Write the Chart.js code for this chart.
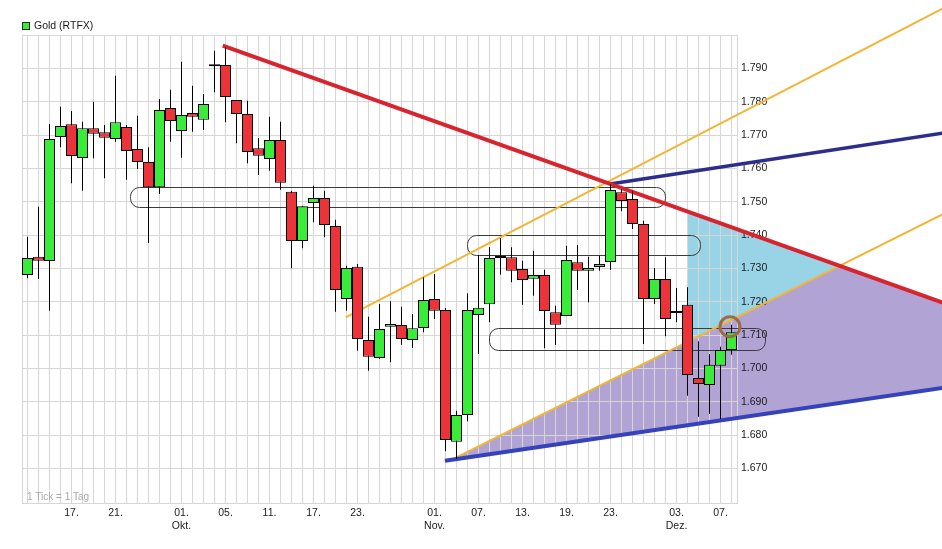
<!DOCTYPE html>
<html>
<head>
<meta charset="utf-8">
<title>Gold (RTFX)</title>
<script src="https://cdn.jsdelivr.net/npm/chart.js@4/dist/chart.umd.min.js"></script>
<style>
    html, body { margin: 0; padding: 0; background: #ffffff; }
    #wrap { width: 942px; height: 549px; }
</style>
</head>
<body>
<div id="wrap"><canvas id="goldChart" width="942" height="549"></canvas></div>
<script>
// trading days, 11.09. - 10.12.
var dates = ['11.09', '12.09', '13.09', '14.09', '17.09', '18.09', '19.09', '20.09', '21.09', '24.09', '25.09', '26.09', '27.09', '28.09',
    '01.10', '02.10', '03.10', '04.10', '05.10', '08.10', '09.10', '10.10', '11.10', '12.10', '15.10', '16.10', '17.10', '18.10', '19.10',
    '22.10', '23.10', '24.10', '25.10', '26.10', '29.10', '30.10', '31.10',
    '01.11', '02.11', '05.11', '06.11', '07.11', '08.11', '09.11', '12.11', '13.11', '14.11', '15.11', '16.11', '19.11', '20.11', '21.11',
    '22.11', '23.11', '26.11', '27.11', '28.11', '29.11', '30.11',
    '03.12', '04.12', '05.12', '06.12', '07.12', '10.12'];

var opens = [1.7280, 1.7335, 1.7322, 1.7694, 1.7732, 1.7631, 1.7720, 1.7708, 1.7688, 1.7724, 1.7658, 1.7619, 1.7543, 1.7781,
    1.7712, 1.7766, 1.7746, 1.7906, 1.7910, 1.7805, 1.7763, 1.7660, 1.7628, 1.7685, 1.7530, 1.7382, 1.7496, 1.7511, 1.7427,
    1.7208, 1.7305, 1.7085, 1.7031, 1.7125, 1.7130, 1.7085, 1.7121,
    1.7208, 1.7175, 1.6780, 1.6860, 1.7160, 1.7192, 1.7331, 1.7333, 1.7298, 1.7269, 1.7280, 1.7168, 1.7157, 1.7318, 1.7293,
    1.7304, 1.7319, 1.7528, 1.7508, 1.7433, 1.7208, 1.7268,
    1.7166, 1.7191, 1.6971, 1.6950, 1.7008, 1.7055];
var highs = [1.7395, 1.7485, 1.7733, 1.7785, 1.7772, 1.7740, 1.7800, 1.7730, 1.7878, 1.7730, 1.7758, 1.7663, 1.7808, 1.7836,
    1.7920, 1.7848, 1.7823, 1.7953, 1.7963, 1.7805, 1.7803, 1.7691, 1.7755, 1.7740, 1.7533, 1.7488, 1.7548, 1.7533, 1.7446,
    1.7308, 1.7313, 1.7155, 1.7193, 1.7201, 1.7185, 1.7163, 1.7273,
    1.7283, 1.7181, 1.6873, 1.7225, 1.7340, 1.7363, 1.7391, 1.7363, 1.7323, 1.7353, 1.7296, 1.7188, 1.7368, 1.7370, 1.7335,
    1.7338, 1.7553, 1.7538, 1.7533, 1.7443, 1.7301, 1.7333,
    1.7241, 1.7243, 1.7081, 1.7043, 1.7065, 1.7131];
var lows = [1.7270, 1.7268, 1.7173, 1.7663, 1.7555, 1.7533, 1.7630, 1.7570, 1.7680, 1.7566, 1.7598, 1.7376, 1.7523, 1.7680,
    1.7632, 1.7710, 1.7715, 1.7828, 1.7738, 1.7675, 1.7615, 1.7580, 1.7593, 1.7536, 1.7300, 1.7360, 1.7438, 1.7393, 1.7170,
    1.7173, 1.7053, 1.6993, 1.7028, 1.7018, 1.7071, 1.7061, 1.7108,
    1.7148, 1.6751, 1.6728, 1.6841, 1.7043, 1.7138, 1.7281, 1.7258, 1.7191, 1.7218, 1.7060, 1.7070, 1.7157, 1.7235, 1.7198,
    1.7293, 1.7295, 1.7471, 1.7418, 1.7073, 1.7193, 1.7096,
    1.7138, 1.6918, 1.6855, 1.6863, 1.6848, 1.7041];
var closes = [1.7331, 1.7323, 1.7688, 1.7727, 1.7637, 1.7720, 1.7704, 1.7692, 1.7738, 1.7652, 1.7619, 1.7543, 1.7775, 1.7742,
    1.7760, 1.7755, 1.7793, 1.7906, 1.7814, 1.7763, 1.7649, 1.7638, 1.7685, 1.7557, 1.7382, 1.7486, 1.7511, 1.7430, 1.7235,
    1.7301, 1.7088, 1.7035, 1.7118, 1.7133, 1.7088, 1.7120, 1.7205,
    1.7173, 1.6785, 1.6860, 1.7175, 1.7182, 1.7331, 1.7331, 1.7293, 1.7265, 1.7280, 1.7172, 1.7131, 1.7325, 1.7293, 1.7301,
    1.7313, 1.7535, 1.7502, 1.7433, 1.7208, 1.7268, 1.7148,
    1.7172, 1.6980, 1.6953, 1.7011, 1.7055, 1.7108];

var tickDates = ['17.09', '21.09', '01.10', '05.10', '11.10', '17.10', '23.10', '01.11', '07.11', '13.11', '19.11', '23.11', '03.12', '07.12'];
var tickLabels = [['17.'], ['21.'], ['01.', 'Okt.'], ['05.'], ['11.'], ['17.'], ['23.'], ['01.', 'Nov.'], ['07.'], ['13.'], ['19.'], ['23.'], ['03.', 'Dez.'], ['07.']];
var priceTicks = [1.67, 1.68, 1.69, 1.70, 1.71, 1.72, 1.73, 1.74, 1.75, 1.76, 1.77, 1.78, 1.79, 1.80];

// drawn analysis: [day index, price] pairs
var redLine = [[17.75, 1.7968], [83.3, 1.7196]];
var blueUpper = [[52.95, 1.7553], [83.3, 1.7706]];
var blueLower = [[37.95, 1.6723], [83.3, 1.6942]];
var orangeUpper = [[28.93, 1.7153], [83.3, 1.8081]];
var orangeLower = [[38.59, 1.6726], [83.3, 1.7464]];
// zones: [from day, to day, low, high]
var zones = [[9.32, 57.95, 1.7483, 1.7543], [39.98, 61.14, 1.7340, 1.7400], [41.98, 67.05, 1.7055, 1.7120]];
var cyanStart = 60;
var marker = [63.86, 1.7125];

var GREEN = '#3aec3a';
var RED = '#ec3339';
var GRID = '#d6d6d6';
var FONT = 'Liberation Sans, Arial, sans-serif';

Chart.defaults.font.family = FONT;
Chart.defaults.font.size = 10.5;
Chart.defaults.color = '#1a1a1a';

var labelAt = {};
tickDates.forEach(function (d, k) { labelAt[dates.indexOf(d)] = tickLabels[k]; });

var xTickValues = [-0.5];
dates.forEach(function (d, i) { xTickValues.push(i); });
xTickValues.push(dates.length - 0.5);

function toPoints(line) {
    return line.map(function (p) { return { x: p[0], y: p[1] }; });
}

function lineY(line, xv) {
    var a = line[0], b = line[1];
    return a[1] + (b[1] - a[1]) * (xv - a[0]) / (b[0] - a[0]);
}

function crossing(l1, l2) {
    var s1 = (l1[1][1] - l1[0][1]) / (l1[1][0] - l1[0][0]);
    var s2 = (l2[1][1] - l2[0][1]) / (l2[1][0] - l2[0][0]);
    var xv = (l2[0][1] - l1[0][1] + s1 * l1[0][0] - s2 * l2[0][0]) / (s1 - s2);
    return [xv, lineY(l1, xv)];
}

function fillPoly(chart, pts, color) {
    var ctx = chart.ctx, sx = chart.scales.x, sy = chart.scales.y;
    ctx.save();
    ctx.beginPath();
    pts.forEach(function (p, k) {
        var px = sx.getPixelForValue(p[0]), py = sy.getPixelForValue(p[1]);
        if (k === 0) ctx.moveTo(px, py); else ctx.lineTo(px, py);
    });
    ctx.closePath();
    ctx.fillStyle = color;
    ctx.fill();
    ctx.restore();
}

var overlay = {
    id: 'overlay',
    beforeDraw: function (chart) {
        // shaded areas sit under the grid
        var cross = crossing(redLine, orangeLower);
        fillPoly(chart, [orangeLower[0], cross, redLine[1], blueLower[1], blueLower[0]], '#b1a3d3');
        fillPoly(chart, [[cyanStart, lineY(redLine, cyanStart)], cross, [cyanStart, lineY(orangeLower, cyanStart)]], '#99d3e6');
    },
    beforeDatasetsDraw: function (chart) {
        var ctx = chart.ctx, sx = chart.scales.x, sy = chart.scales.y;
        ctx.save();
        ctx.strokeStyle = '#3c3c3c';
        ctx.lineWidth = 1;
        zones.forEach(function (z) {
            var l = Math.round(sx.getPixelForValue(z[0])) + 0.5;
            var r = Math.round(sx.getPixelForValue(z[1])) + 0.5;
            var t = Math.round(sy.getPixelForValue(z[3])) + 0.5;
            var b = Math.round(sy.getPixelForValue(z[2])) + 0.5;
            ctx.beginPath();
            ctx.roundRect(l, t, r - l, b - t, 9);
            ctx.stroke();
        });
        ctx.restore();
    },
    afterDraw: function (chart) {
        var ctx = chart.ctx, area = chart.chartArea;
        ctx.save();
        // legend
        ctx.fillStyle = GREEN;
        ctx.fillRect(area.left, area.top - 13, 8, 8);
        ctx.strokeStyle = '#2a2a2a';
        ctx.lineWidth = 1;
        ctx.strokeRect(area.left + 0.5, area.top - 12.5, 7, 7);
        ctx.fillStyle = '#1a1a1a';
        ctx.font = '10.5px ' + FONT;
        ctx.textBaseline = 'middle';
        ctx.fillText(chart.data.datasets[2].label, area.left + 12, area.top - 9);
        // note in the corner
        ctx.fillStyle = '#a8a8a8';
        ctx.font = '10px ' + FONT;
        ctx.textBaseline = 'alphabetic';
        ctx.fillText('1 Tick = 1 Tag', area.left + 5, area.bottom - 3);
        ctx.restore();
    }
};

var wickData = dates.map(function (d, i) { return { x: i, y: [lows[i], highs[i]] }; });
var bodyData = dates.map(function (d, i) { return { x: i, y: [opens[i], closes[i]] }; });

function trend(line, color, width) {
    return {
        type: 'line',
        data: toPoints(line),
        borderColor: color,
        borderWidth: width,
        pointRadius: 0,
        fill: false,
        tension: 0,
        clip: false,
        order: 5
    };
}

var chart = new Chart(document.getElementById('goldChart'), {
    type: 'bar',
    data: {
        datasets: [
            trend(redLine, '#d8242e', 4),
            {
                label: 'wick',
                data: wickData,
                backgroundColor: '#000000',
                borderWidth: 0,
                barThickness: 1,
                grouped: false,
                inflateAmount: 0,
                order: 3
            },
            {
                label: 'Gold (RTFX)',
                data: bodyData,
                backgroundColor: function (c) {
                    if (c.type !== 'data') return GREEN;
                    return closes[c.dataIndex] >= opens[c.dataIndex] ? GREEN : RED;
                },
                borderColor: '#000000',
                borderWidth: 1,
                borderSkipped: false,
                barThickness: 11,
                minBarLength: 2,
                grouped: false,
                inflateAmount: 0,
                order: 2
            },
            trend(blueUpper, '#2d2d8c', 3.5),
            trend(blueLower, '#3542bc', 4),
            trend(orangeUpper, '#f3b534', 2),
            trend(orangeLower, '#f3b534', 2),
            {
                type: 'line',
                data: [{ x: marker[0], y: marker[1] }],
                showLine: false,
                pointRadius: 10,
                pointBorderWidth: 3,
                pointBorderColor: '#9c6b4a',
                pointBackgroundColor: 'rgba(0,0,0,0)',
                clip: false,
                order: 1
            }
        ]
    },
    options: {
        responsive: false,
        animation: false,
        events: [],
        layout: { padding: { left: 22, top: 35, right: 0, bottom: 0 } },
        plugins: {
            legend: { display: false },
            tooltip: { enabled: false }
        },
        scales: {
            x: {
                type: 'linear',
                min: -0.5,
                max: dates.length - 0.5,
                bounds: 'data',
                offset: false,
                grid: { color: GRID, drawTicks: false, offset: false },
                border: { color: GRID },
                afterBuildTicks: function (s) {
                    s.ticks = xTickValues.map(function (v) { return { value: v }; });
                },
                afterFit: function (s) { s.height = 46; },
                ticks: {
                    autoSkip: false,
                    maxRotation: 0,
                    minRotation: 0,
                    padding: 4,
                    callback: function (v) { return labelAt[v] || ''; }
                }
            },
            y: {
                type: 'linear',
                position: 'right',
                min: 1.6596,
                max: 1.80,
                bounds: 'data',
                grid: { color: GRID, drawTicks: false },
                border: { color: GRID },
                afterBuildTicks: function (s) {
                    s.ticks = priceTicks.map(function (v) { return { value: v }; });
                },
                afterFit: function (s) { s.width = 205; },
                ticks: {
                    autoSkip: false,
                    padding: 4,
                    callback: function (v) { return v >= 1.7995 ? '' : v.toFixed(3); }
                }
            }
        }
    },
    plugins: [overlay]
});
</script>
</body>
</html>
